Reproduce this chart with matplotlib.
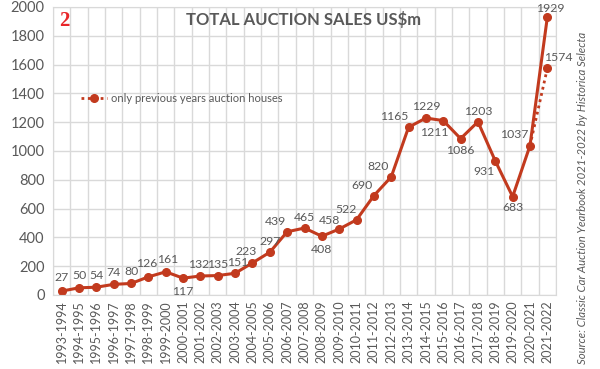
import numpy as np
import matplotlib.pyplot as plt

# Data
seasons = ["1993-1994", "1994-1995", "1995-1996", "1996-1997", "1997-1998",
           "1998-1999", "1999-2000", "2000-2001", "2001-2002", "2002-2003",
           "2003-2004", "2004-2005", "2005-2006", "2006-2007", "2007-2008",
           "2008-2009", "2009-2010", "2010-2011", "2011-2012", "2012-2013",
           "2013-2014", "2014-2015", "2015-2016", "2016-2017", "2017-2018",
           "2018-2019", "2019-2020", "2020-2021", "2021-2022"]
sales = [27, 50, 54, 74, 80, 126, 161, 117, 132, 135, 151, 223, 297, 439, 465,
         408, 458, 522, 690, 820, 1165, 1229, 1211, 1086, 1203, 931, 683, 1037, 1929]
prev_seasons = ["2020-2021", "2021-2022"]
prev_sales = [1037, 1574]

# label offsets in pixels (dx, dy)
offsets = [(0, 14), (0, 12), (0, 12), (0, 12), (0, 12), (-2, 13), (2, 12), (0, -13),
           (-2, 11), (0, 11), (3, 11), (-6, 11), (0, 11), (-12, 10), (0, 11),
           (0, -13), (-10, 9), (-10, 10), (-12, 10), (-13, 10), (-14, 11), (0, 12),
           (-9, -12), (0, -12), (0, 10), (-11, -11), (0, -11), (-16, 11), (3, 9)]

red = "#C23A1E"
gray = "#595959"
plt.rcParams['font.family'] = ['Lato', 'DejaVu Sans']

fig = plt.figure(figsize=(6, 3.69), dpi=100)
ax = fig.add_axes([53 / 600, 1 - 295 / 369, 503 / 600, 288 / 369])

x = np.arange(len(seasons))
xp = [seasons.index(s) for s in prev_seasons]

ax.plot(xp, prev_sales, linestyle=(0, (1, 1.3)), color=red, lw=2,
        marker="o", markersize=5.5, markevery=[1],
        label="only previous years auction houses")
ax.plot(x, sales, color=red, lw=2.2, marker="o", markersize=5.5)

for xi, v, (dx, dy) in zip(x, sales, offsets):
    ax.annotate(str(v), (xi, v), xytext=(dx, dy), textcoords="offset pixels",
                ha="center", va="center", fontsize=8.8, color=gray)
ax.annotate(str(prev_sales[1]), (xp[1], prev_sales[1]), xytext=(11, 11),
            textcoords="offset pixels", ha="center", va="center",
            fontsize=8.8, color=gray)

ax.set_xlim(-0.5, len(seasons) - 0.5)
ax.set_ylim(0, 2000)
ax.set_yticks(range(0, 2001, 200))
ax.set_xticks(x)
ax.set_xticklabels(seasons, rotation=90, fontsize=9, color=gray)
ax.set_xticks(np.arange(-0.5, len(seasons), 1), minor=True)
ax.tick_params(axis="y", labelsize=10.5, labelcolor=gray, length=0, pad=6)
ax.tick_params(axis="x", which="both", length=0, pad=4)
ax.grid(axis="y", color="#D9D9D9", lw=1)
ax.grid(axis="x", which="minor", color="#D9D9D9", lw=1)
ax.set_axisbelow(True)
for s in ax.spines.values():
    s.set_color("#D9D9D9")

ax.legend(loc="center left", bbox_to_anchor=(0.045, 0.684), frameon=False,
          fontsize=8, labelcolor=gray, handlelength=2.3, handletextpad=0.4,
          borderpad=0)

fig.text(304 / 600, 1 - 20 / 369, "TOTAL AUCTION SALES US$m", ha="center",
         va="center", fontsize=12, fontweight="bold", color=gray)
fig.text(64 / 600, 1 - 21 / 369, "2", ha="center", va="center", fontsize=15,
         fontweight="bold", color="#E8262A", family="Liberation Serif")
fig.text(583 / 600, 1 - 198 / 369,
         "Source: Classic Car Auction Yearbook 2021-2022 by Historica Selecta",
         rotation=90, ha="center", va="center", fontsize=8.2, style="italic",
         color=gray)

fig.savefig("out.png", dpi=100)
